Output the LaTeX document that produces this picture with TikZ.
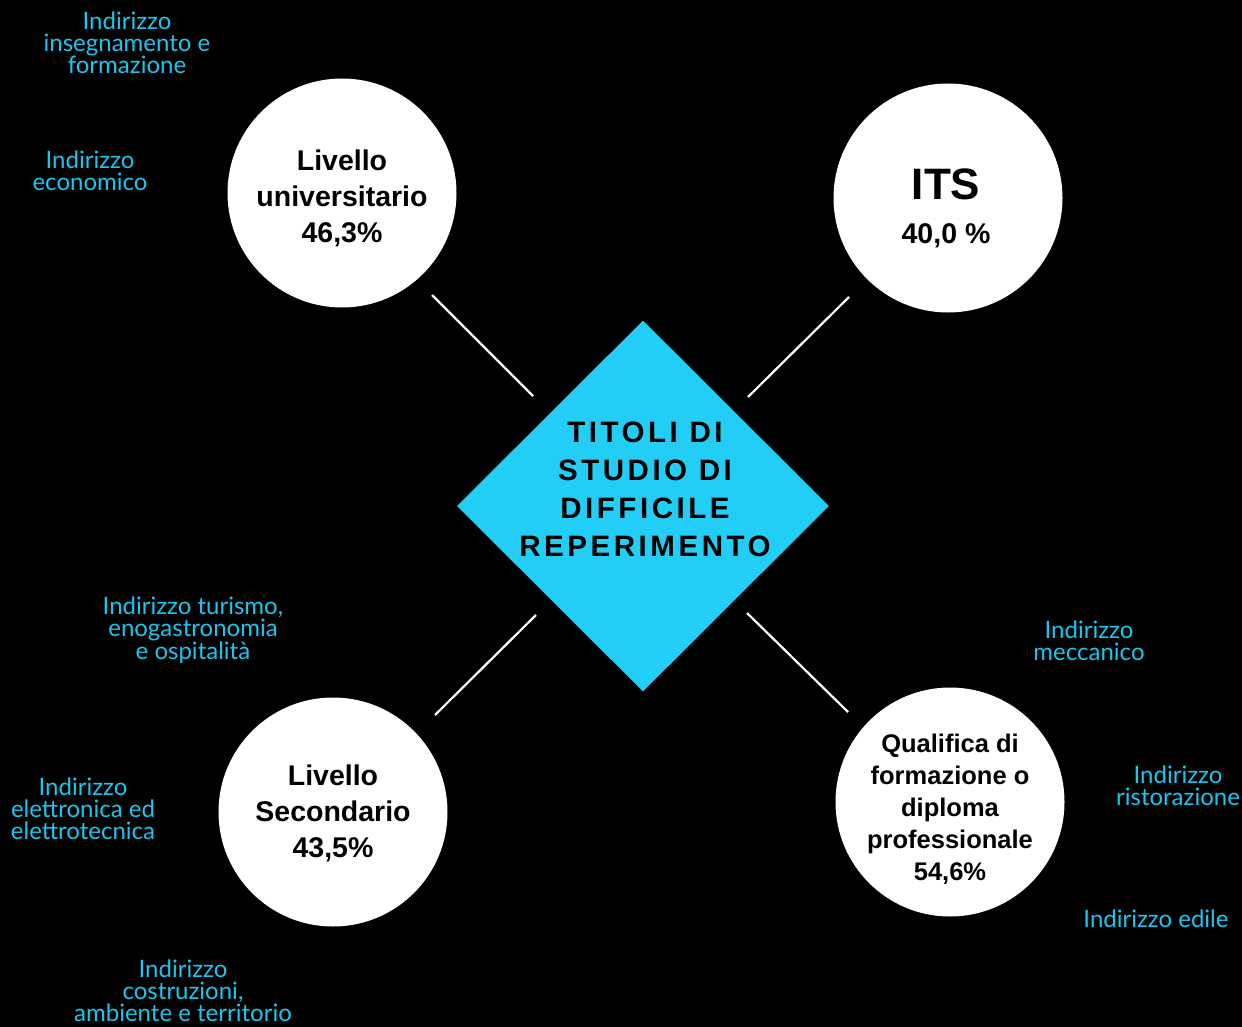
\documentclass[tikz,border=0pt]{standalone}
\usepackage{fontspec}
\setmainfont{Liberation Sans}
\newfontfamily\lblfont{Lato}
\newfontfamily\diafont[LetterSpace=12]{Liberation Sans Bold}
\usetikzlibrary{shapes.geometric}
\definecolor{cyanfill}{HTML}{22CEF5}
\definecolor{cyantext}{HTML}{1DC4EC}
\tikzset{
  x=1pt, y=-1pt,
  circ/.style={circle, fill=white, draw=none, minimum size=229pt, inner sep=0pt},
  ctext/.style={align=center, font=\bfseries\fontsize{28.5}{36}\selectfont, text=black},
  lbl/.style={align=center, font=\lblfont\fontsize{24}{22}\selectfont, text=cyantext, inner sep=0pt},
  link/.style={draw=white, line width=2.2pt},
}
\begin{document}
\begin{tikzpicture}
\fill[black] (0,0) rectangle (1242,1027);
\useasboundingbox (0,0) rectangle (1242,1027);

% diamond
\node[diamond, fill=cyanfill, minimum width=372pt, minimum height=371pt, inner sep=0pt] (dia) at (643,506) {};
\node[align=center, font=\diafont\fontsize{29.5}{38}\selectfont, text=black] (diatext) at (645,489) {TITOLI DI\\STUDIO DI\\DIFFICILE\\REPERIMENTO};

% circles
\node[circ] (univ) at (342,193) {};
\node[ctext] (univt) at (342,198) {Livello\\universitario\\46,3\%};

\node[circ] (its) at (948,198) {};
\node[ctext, font=\bfseries\fontsize{44}{44}\selectfont] (itst) at (946,184) {ITS};
\node[ctext] (itsp) at (946,236) {40,0 \%};

\node[circ] (sec) at (333,812) {};
\node[ctext] (sect) at (333,813) {Livello\\Secondario\\43,5\%};

\node[circ] (qual) at (950,802) {};
\node[ctext, font=\bfseries\fontsize{25.5}{32}\selectfont] (qualt) at (950,809) {Qualifica di\\formazione o\\diploma\\professionale\\54,6\%};

% connectors
\coordinate (a1) at (432,295); \coordinate (a2) at (533,396);
\coordinate (b1) at (849,297); \coordinate (b2) at (748,397);
\coordinate (c1) at (536,615); \coordinate (c2) at (435,715);
\coordinate (d1) at (747,613); \coordinate (d2) at (848,712);
\draw[link] (a1) -- (a2);
\draw[link] (b1) -- (b2);
\draw[link] (c1) -- (c2);
\draw[link] (d1) -- (d2);

% labels
\node[lbl] (l1) at (127,43) {Indirizzo\\insegnamento e\\formazione};
\node[lbl] (l2) at (90,171) {Indirizzo\\economico};
\node[lbl] (l3) at (193,630) {Indirizzo turismo,\\enogastronomia\\e ospitalità};
\node[lbl] (l4) at (83,809) {Indirizzo\\elettronica ed\\elettrotecnica};
\node[lbl] (l5) at (183,991) {Indirizzo\\costruzioni,\\ambiente e territorio};
\node[lbl] (l6) at (1089,641) {Indirizzo\\meccanico};
\node[lbl] (l7) at (1178,786) {Indirizzo\\ristorazione};
\node[lbl] (l8) at (1156,919) {Indirizzo edile};
\end{tikzpicture}
\end{document}
